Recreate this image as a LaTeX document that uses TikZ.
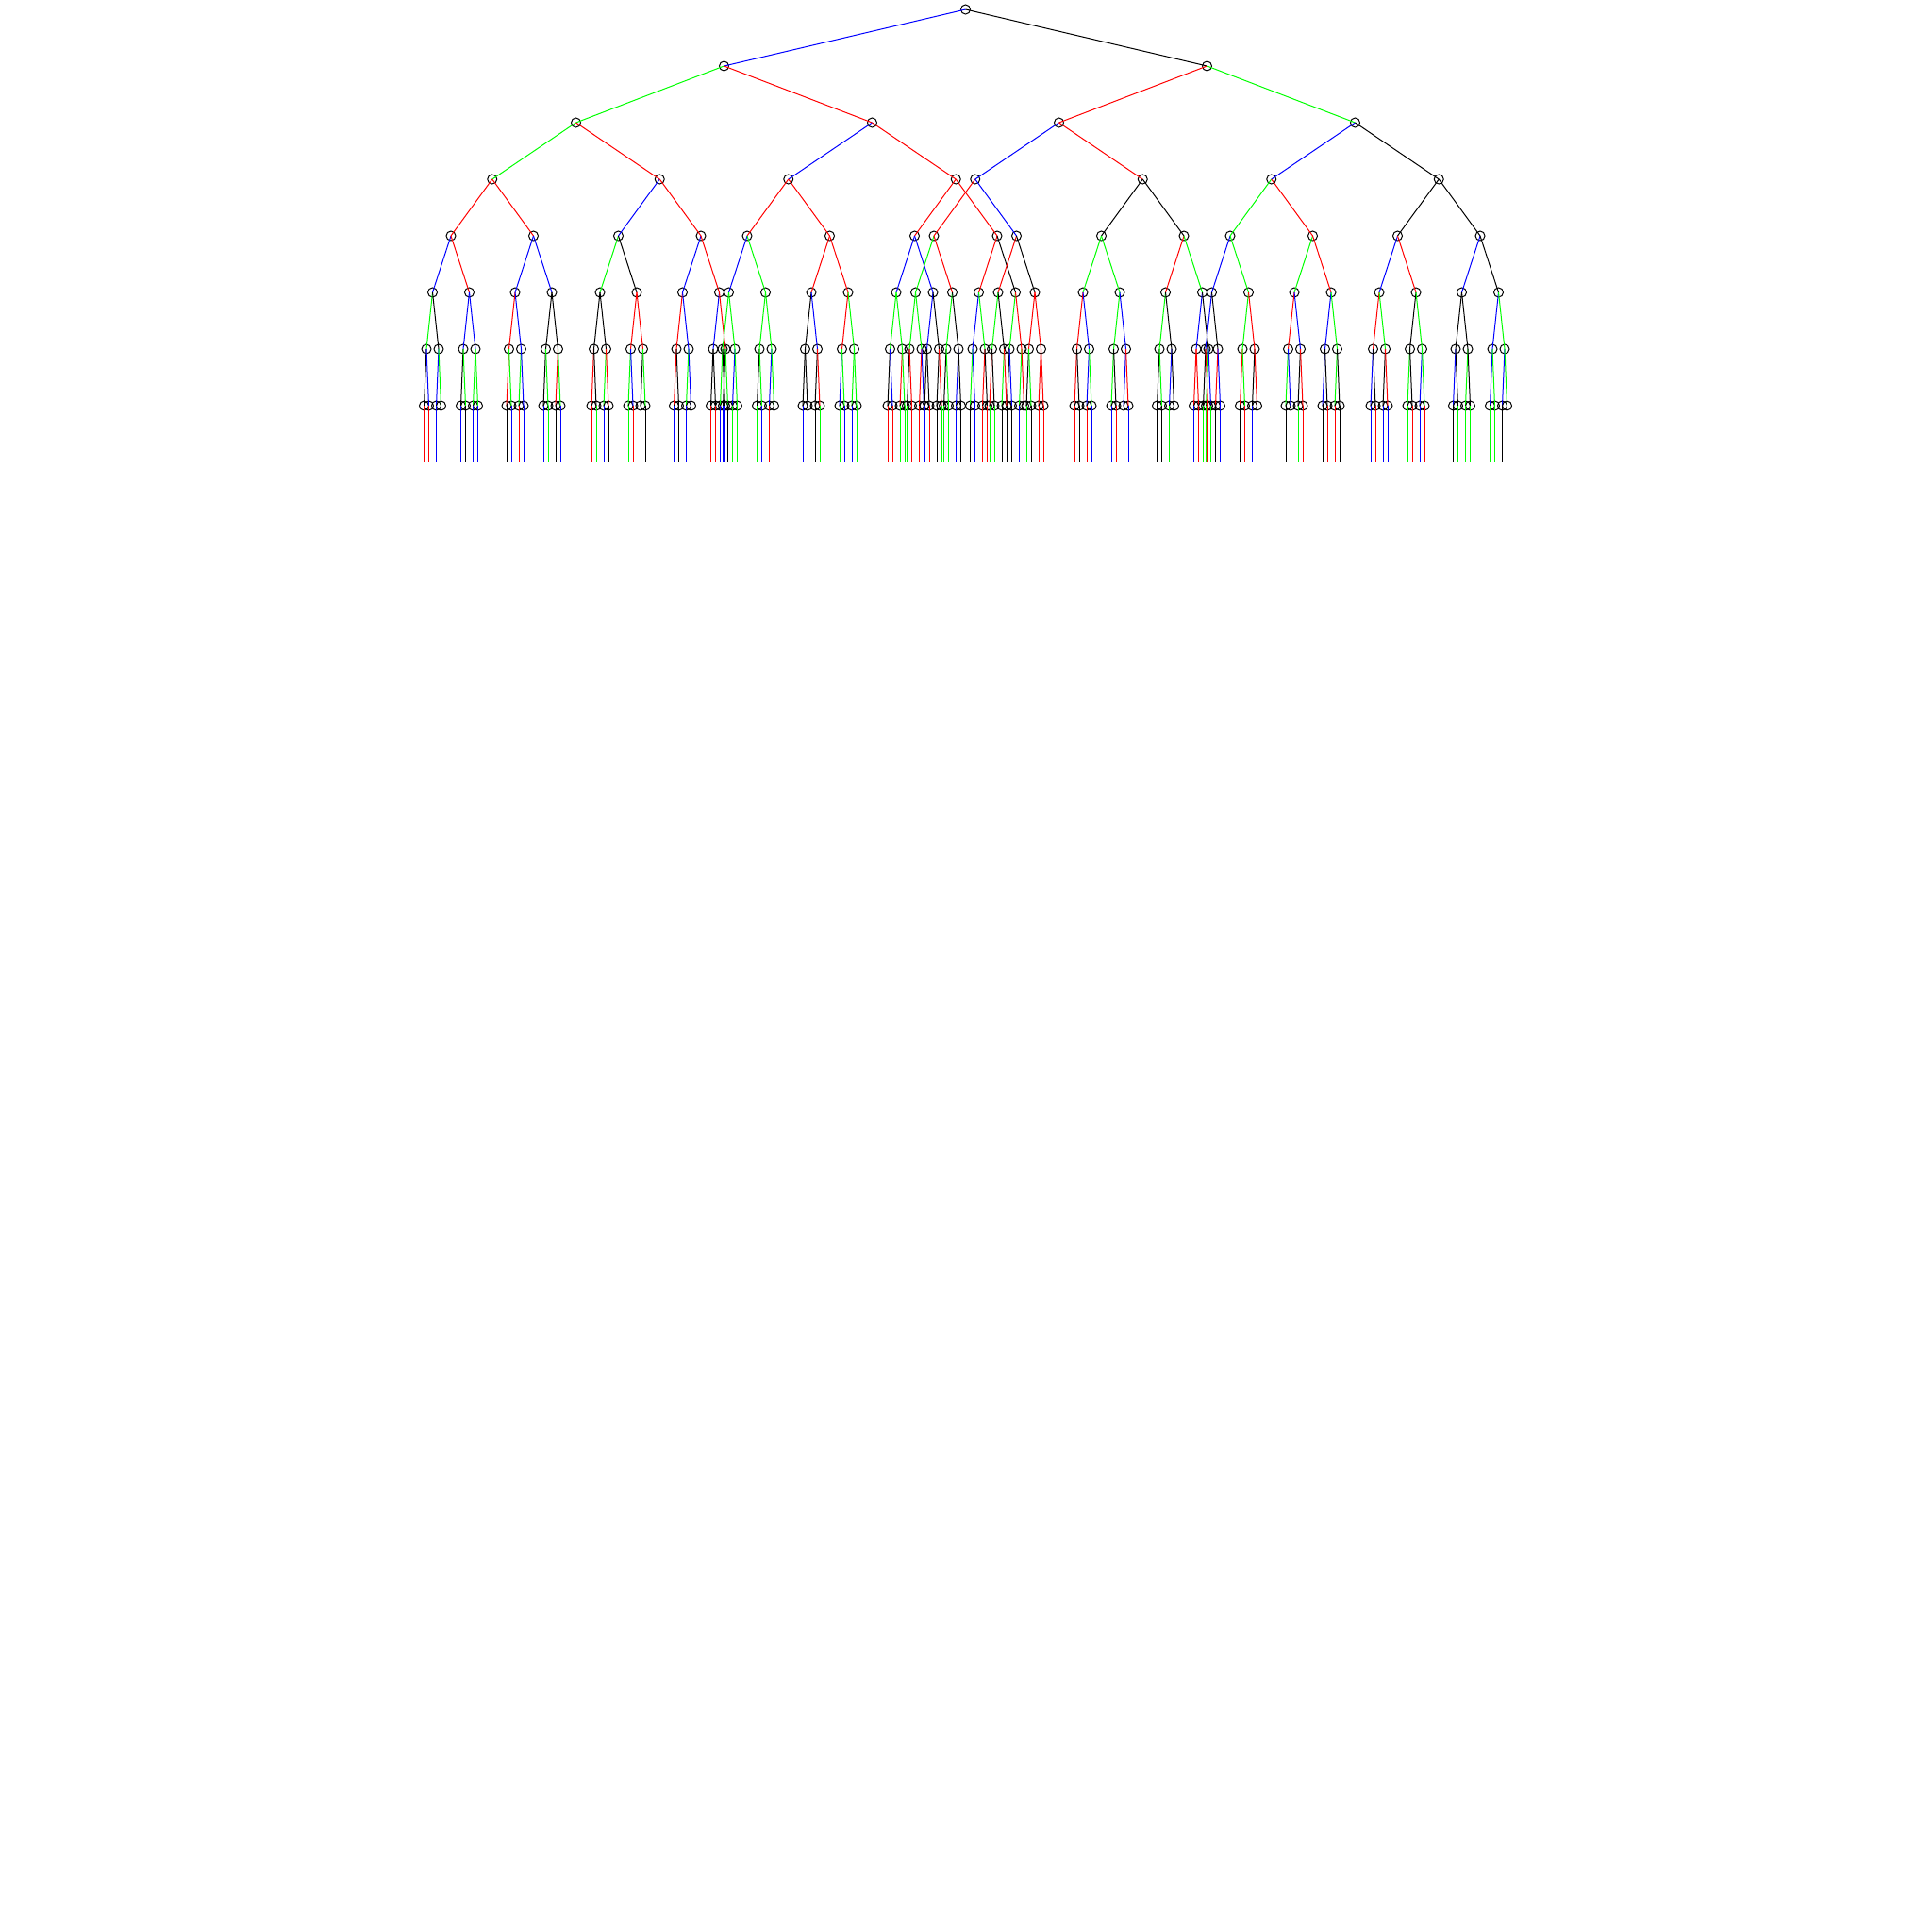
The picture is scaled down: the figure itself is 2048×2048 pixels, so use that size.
\documentclass[tikz,border=0pt]{standalone}
\begin{document}
\begin{tikzpicture}[x=0.01cm, y=-0.01cm,
			knot/.style={circle, draw, minimum size=0.1cm, inner sep=0pt, line width=0.01cm},
			link/.style={line width=0.01cm}
			]
			\useasboundingbox (0,0) rectangle (2048,2048);
			
			% Racine
			\node[knot] (L0-0) at (1023.5,10) {};
			
			% Niveau 1
			\foreach \c [count=\i from 0] in {blue,black} {
				\pgfmathtruncatemacro\p{div(\i,2)}
				\pgfmathsetmacro\dx{(2*mod(\i,2)-1)*256}
				\path (L0-\p) ++(\dx,60) node[knot] (L1-\i) {};
				\draw[link, \c] (L0-\p.center) -- (L1-\i.center);
			}
			
			% Niveau 2
			\foreach \c [count=\i from 0] in {green,red,red,green} {
				\pgfmathtruncatemacro\p{div(\i,2)}
				\pgfmathsetmacro\dx{(2*mod(\i,2)-1)*157}
				\path (L1-\p) ++(\dx,60) node[knot] (L2-\i) {};
				\draw[link, \c] (L1-\p.center) -- (L2-\i.center);
			}
			
			% Niveau 3
			\foreach \c [count=\i from 0] in {green,red,blue,red,blue,red,blue,black} {
				\pgfmathtruncatemacro\p{div(\i,2)}
				\pgfmathsetmacro\dx{(2*mod(\i,2)-1)*88.75}
				\path (L2-\p) ++(\dx,60) node[knot] (L3-\i) {};
				\draw[link, \c] (L2-\p.center) -- (L3-\i.center);
			}
			
			% Niveau 4
			\foreach \c [count=\i from 0] in {red,red,blue,red,red,red,red,red,
				red,blue,black,black,green,red,black,black} {
				\pgfmathtruncatemacro\p{div(\i,2)}
				\pgfmathsetmacro\dx{(2*mod(\i,2)-1)*43.75}
				\path (L3-\p) ++(\dx,60) node[knot] (L4-\i) {};
				\draw[link, \c] (L3-\p.center) -- (L4-\i.center);
			}
			
			% Niveau 5
			\foreach \c [count=\i from 0] in {blue,red,blue,blue,green,black,blue,red,
				blue,green,red,red,blue,blue,red,black,
				green,red,red,black,green,green,red,green,
				blue,green,green,red,blue,red,blue,black} {
				\pgfmathtruncatemacro\p{div(\i,2)}
				\pgfmathsetmacro\dx{(2*mod(\i,2)-1)*19.5}
				\path (L4-\p) ++(\dx,60) node[knot] (L5-\i) {};
				\draw[link, \c] (L4-\p.center) -- (L5-\i.center);
			}
			
			% Niveau 6
			\foreach \c [count=\i from 0] in {green,black,blue,blue,red,blue,black,black,
				black,black,red,red,red,blue,blue,red,
				green,green,green,green,black,blue,red,green,
				green,green,blue,black,blue,green,green,red,
				green,green,green,black,green,black,red,red,
				red,blue,green,blue,green,black,blue,black,
				blue,black,green,red,red,blue,blue,green,
				red,green,black,green,black,black,blue,green} {
				\pgfmathtruncatemacro\p{div(\i,2)}
				\pgfmathsetmacro\dx{(2*mod(\i,2)-1)*6.5}
				\path (L5-\p) ++(\dx,60) node[knot] (L6-\i) {};
				\draw[link, \c] (L5-\p.center) -- (L6-\i.center);
			}
			
			% Niveau 7
			\foreach \c [count=\i from 0] in {black,blue,blue,green,black,green,green,green,
				red,green,green,blue,black,green,red,green,
				red,black,green,red,green,blue,black,green,
				red,black,green,blue,black,black,black,green,
				green,black,blue,green,black,green,blue,green,
				black,black,black,red,blue,green,green,green,
				black,blue,red,green,black,black,black,red,
				green,blue,red,black,black,blue,green,red,
				black,red,red,blue,black,green,blue,black,
				red,black,green,red,black,green,red,red,
				red,black,blue,green,green,black,blue,red,
				black,green,blue,black,red,red,green,blue,
				black,red,red,blue,red,green,black,red,
				green,blue,black,red,blue,black,green,black,
				blue,black,black,red,green,black,blue,green,
				blue,black,green,black,blue,green,blue,green} {
				\pgfmathtruncatemacro\p{div(\i,2)}
				\pgfmathsetmacro\dx{(2*mod(\i,2)-1)*2.5}
				\path (L6-\p) ++(\dx,60) node[knot] (L7-\i) {};
				\draw[link, \c] (L6-\p.center) -- (L7-\i.center);
			}
			
			% Feuilles (niveau 8)
			\foreach \c [count=\i from 0] in {red,red,blue,red,blue,black,blue,blue,
				black,blue,red,blue,blue,green,black,blue,
				red,green,blue,black,green,red,red,black,
				blue,black,blue,black,red,red,blue,black,
				blue,blue,green,green,green,blue,red,black,
				blue,blue,black,green,green,blue,blue,green,
				red,red,green,green,blue,red,black,green,
				black,blue,red,red,black,black,blue,green,
				green,red,red,blue,green,green,blue,black,
				green,green,black,black,green,black,red,red,
				red,black,red,blue,blue,red,red,blue,
				black,black,green,blue,blue,red,green,green,
				green,red,black,blue,black,red,blue,blue,
				black,red,green,red,black,red,red,black,
				blue,red,blue,blue,green,red,blue,red,
				black,green,green,green,green,green,black,black} {
				\path (L7-\i) ++(0,60) coordinate (L8-\i);
				\draw[link, \c] (L7-\i.center) -- (L8-\i);
			}
			
		\end{tikzpicture}
\end{document}
